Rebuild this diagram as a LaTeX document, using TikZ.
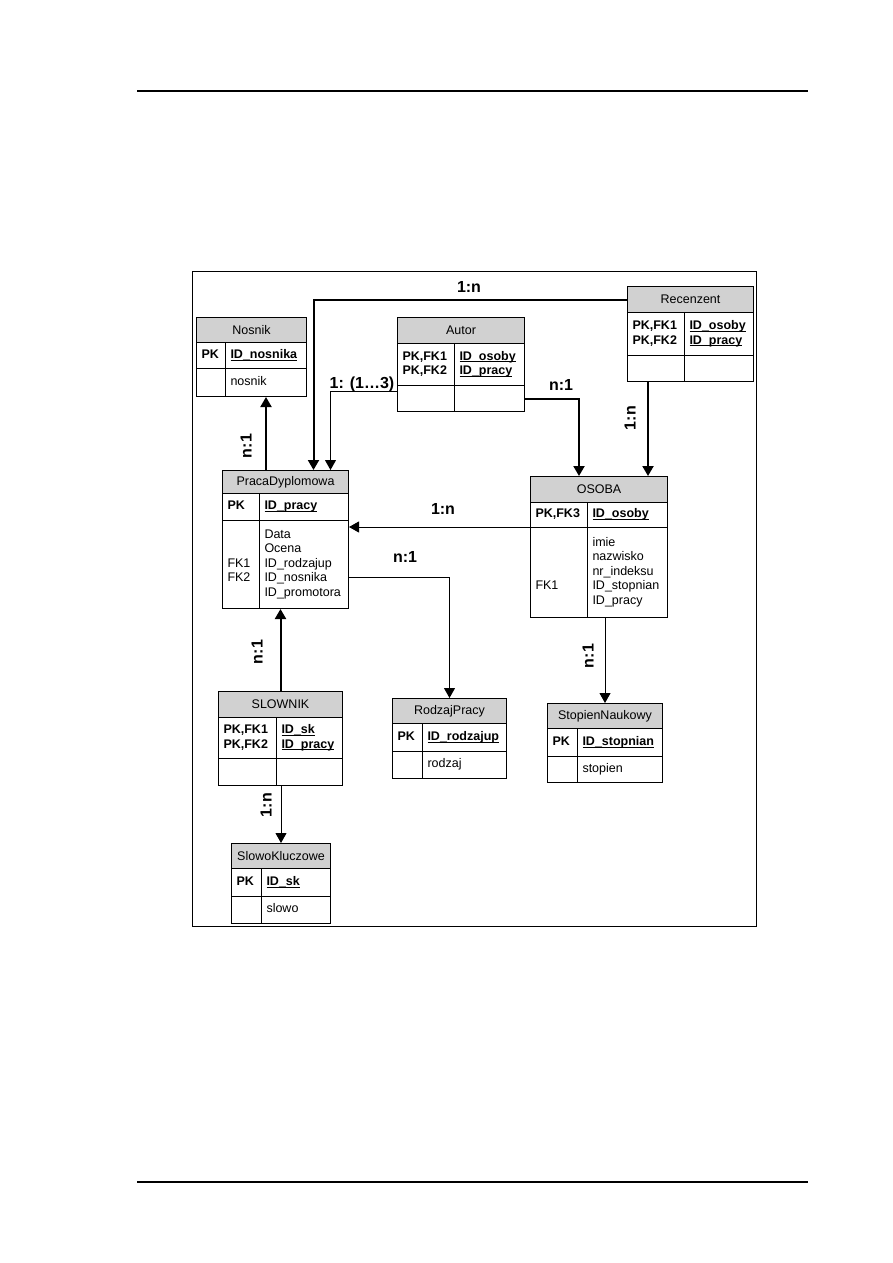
\documentclass[tikz,border=0pt]{standalone}
\usepackage{fontspec}
\setmainfont{Liberation Sans}
\usetikzlibrary{arrows.meta}
\definecolor{headgray}{gray}{0.82}
\newcommand{\tabfont}{\fontsize{12.5}{14.5}\selectfont}
\newcommand{\relfont}{\fontsize{16}{18}\selectfont\bfseries}
\newsavebox{\keybox}
\newcommand{\keyname}[1]{\leavevmode\sbox{\keybox}{#1}\rlap{\rule[-2.2pt]{\wd\keybox}{1pt}}\usebox{\keybox}}
\tikzset{
  tabhead/.style={draw, fill=headgray, line width=1pt, anchor=north west, inner sep=0pt, font=\tabfont},
  tabcell/.style={draw, line width=1pt, anchor=north west, inner xsep=5pt, inner ysep=0pt, align=left, font=\tabfont, execute at begin node=\strut, execute at end node=\strut},
  keycell/.style={tabcell, font=\tabfont\bfseries},
  rel/.style={-{Triangle[length=10pt,width=11pt]}, line width=2pt},
  relthin/.style={rel, line width=1pt},
  card/.style={font=\relfont, inner sep=0pt},
}
\begin{document}
\begin{tikzpicture}[x=1pt, y=-1pt]
\useasboundingbox (0,0) rectangle (893,1263);
\draw[line width=1.3pt] (137,91) -- (808,91);
\draw[line width=1.3pt] (137,1182) -- (808,1182);
\draw[line width=1pt] (192,271) rectangle (756,926);

\node[tabhead, minimum width=110pt, minimum height=25pt] (nosnik) at (196,317) {Nosnik};
\node[keycell, text width=19pt, minimum height=26pt] (nosnik-kl) at (196,342) {PK};
\node[keycell, text width=71pt, minimum height=26pt] (nosnik-kr) at (225,342) {\keyname{ID\_nosnika}};
\node[tabcell, text width=19pt, minimum height=28pt] (nosnik-bl) at (196,368) {};
\node[tabcell, text width=71pt, minimum height=28pt] (nosnik-br) at (225,368) {nosnik};

\node[tabhead, minimum width=127pt, minimum height=26pt] (autor) at (397,317) {Autor};
\node[keycell, text width=47pt, minimum height=42pt] (autor-kl) at (397,343) {PK,FK1\\PK,FK2};
\node[keycell, text width=60pt, minimum height=42pt] (autor-kr) at (454,343) {\keyname{ID\_osoby}\\\keyname{ID\_pracy}};
\node[tabcell, text width=47pt, minimum height=26pt] (autor-bl) at (397,385) {};
\node[tabcell, text width=60pt, minimum height=26pt] (autor-br) at (454,385) {};

\node[tabhead, minimum width=126pt, minimum height=26pt] (recenzent) at (627,286) {Recenzent};
\node[keycell, text width=47pt, minimum height=43pt] (recenzent-kl) at (627,312) {PK,FK1\\PK,FK2};
\node[keycell, text width=59pt, minimum height=43pt] (recenzent-kr) at (684,312) {\keyname{ID\_osoby}\\\keyname{ID\_pracy}};
\node[tabcell, text width=47pt, minimum height=26pt] (recenzent-bl) at (627,355) {};
\node[tabcell, text width=59pt, minimum height=26pt] (recenzent-br) at (684,355) {};

\node[tabhead, minimum width=126pt, minimum height=23pt] (praca) at (222,470) {PracaDyplomowa};
\node[keycell, text width=27pt, minimum height=27pt] (praca-kl) at (222,493) {PK};
\node[keycell, text width=79pt, minimum height=27pt] (praca-kr) at (259,493) {\keyname{ID\_pracy}};
\node[tabcell, text width=27pt, minimum height=88pt] (praca-bl) at (222,520) {~\\~\\FK1\\FK2\\~};
\node[tabcell, text width=79pt, minimum height=88pt] (praca-br) at (259,520) {Data\\Ocena\\ID\_rodzajup\\ID\_nosnika\\ID\_promotora};

\node[tabhead, minimum width=137pt, minimum height=26pt] (osoba) at (530,476) {OSOBA};
\node[keycell, text width=47pt, minimum height=25pt] (osoba-kl) at (530,502) {PK,FK3};
\node[keycell, text width=70pt, minimum height=25pt] (osoba-kr) at (587,502) {\keyname{ID\_osoby}};
\node[tabcell, text width=47pt, minimum height=90pt] (osoba-bl) at (530,527) {~\\~\\~\\FK1\\~};
\node[tabcell, text width=70pt, minimum height=90pt] (osoba-br) at (587,527) {imie\\nazwisko\\nr\_indeksu\\ID\_stopnian\\ID\_pracy};

\node[tabhead, minimum width=124pt, minimum height=26pt] (slownik) at (218,691) {SLOWNIK};
\node[keycell, text width=48pt, minimum height=41pt] (slownik-kl) at (218,717) {PK,FK1\\PK,FK2};
\node[keycell, text width=56pt, minimum height=41pt] (slownik-kr) at (276,717) {\keyname{ID\_sk}\\\keyname{ID\_pracy}};
\node[tabcell, text width=48pt, minimum height=27pt] (slownik-bl) at (218,758) {};
\node[tabcell, text width=56pt, minimum height=27pt] (slownik-br) at (276,758) {};

\node[tabhead, minimum width=114pt, minimum height=25pt] (rodzaj) at (392,698) {RodzajPracy};
\node[keycell, text width=20pt, minimum height=28pt] (rodzaj-kl) at (392,723) {PK};
\node[keycell, text width=74pt, minimum height=28pt] (rodzaj-kr) at (422,723) {\keyname{ID\_rodzajup}};
\node[tabcell, text width=20pt, minimum height=27pt] (rodzaj-bl) at (392,751) {};
\node[tabcell, text width=74pt, minimum height=27pt] (rodzaj-br) at (422,751) {rodzaj};

\node[tabhead, minimum width=115pt, minimum height=25pt] (stopien) at (547,703) {StopienNaukowy};
\node[keycell, text width=20pt, minimum height=28pt] (stopien-kl) at (547,728) {PK};
\node[keycell, text width=75pt, minimum height=28pt] (stopien-kr) at (577,728) {\keyname{ID\_stopnian}};
\node[tabcell, text width=20pt, minimum height=26pt] (stopien-bl) at (547,756) {};
\node[tabcell, text width=75pt, minimum height=26pt] (stopien-br) at (577,756) {stopien};

\node[tabhead, minimum width=99pt, minimum height=25pt] (slowo) at (231,843) {SlowoKluczowe};
\node[keycell, text width=20pt, minimum height=28pt] (slowo-kl) at (231,868) {PK};
\node[keycell, text width=59pt, minimum height=28pt] (slowo-kr) at (261,868) {\keyname{ID\_sk}};
\node[tabcell, text width=20pt, minimum height=27pt] (slowo-bl) at (231,896) {};
\node[tabcell, text width=59pt, minimum height=27pt] (slowo-br) at (261,896) {slowo};

\draw[rel] (recenzent.west) -| ([xshift=28pt]praca.north);
\draw[relthin] ([yshift=7pt]autor-bl.west) -| ([xshift=45pt]praca.north);
\draw[rel] (praca.north -| nosnik-br.south) -- (nosnik-br.south);
\draw[rel] (autor-br.east) -| ([xshift=-20pt]osoba.north);
\draw[rel] ([xshift=-8pt]recenzent-bl.south) -- ([xshift=-8pt]recenzent-bl.south |- osoba.north);
\draw[relthin] (osoba-bl.north west) -- (osoba-bl.north west -| praca-kr.east);
\draw[relthin] ([yshift=-13pt]praca-br.east) -| (rodzaj.north);
\draw[rel] (slownik.north) -- (slownik.north |- praca-br.south);
\draw[relthin] (slownik-br.south -| slowo.north) -- (slowo.north);
\draw[relthin] (osoba-br.south -| stopien.north) -- (stopien.north);

\node[card] (c-rec-praca) at (469,287) {1:n};
\node[card] (c-autor-praca) at (362,384) {1: (1…3)};
\node[card] (c-autor-osoba) at (561,385) {n:1};
\node[card] (c-osoba-praca) at (443,509) {1:n};
\node[card] (c-praca-rodzaj) at (405,557) {n:1};
\node[card, rotate=90] (c-praca-nosnik) at (246,446) {n:1};
\node[card, rotate=90] (c-rec-osoba) at (630,418) {1:n};
\node[card, rotate=90] (c-slownik-praca) at (257,652) {n:1};
\node[card, rotate=90] (c-slownik-slowo) at (266,805) {1:n};
\node[card, rotate=90] (c-osoba-stopien) at (588,656) {n:1};
\end{tikzpicture}
\end{document}
